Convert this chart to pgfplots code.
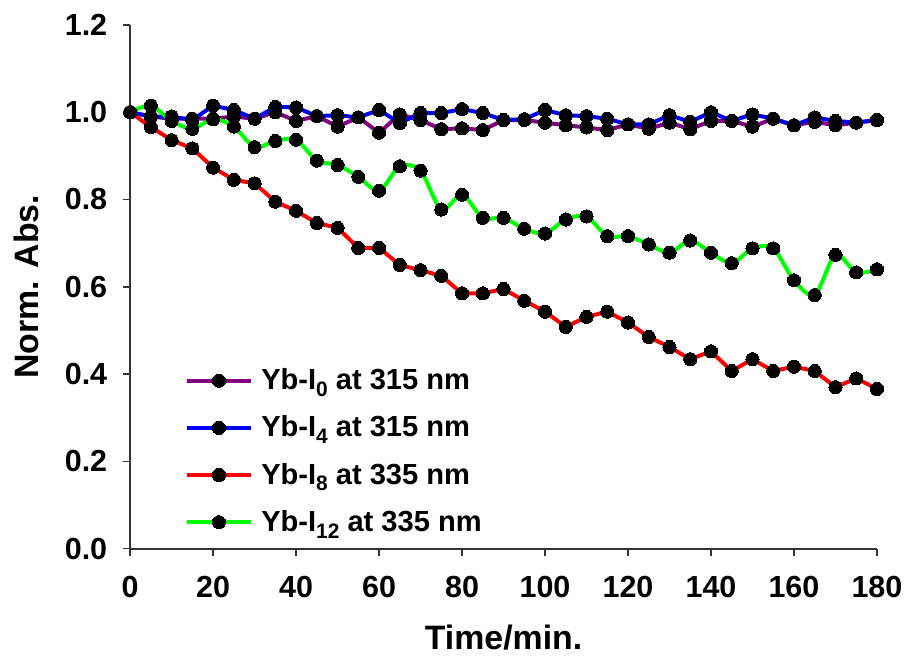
\documentclass[border=0pt]{standalone}
\usepackage{pgfplots}
\pgfplotsset{compat=1.18}
\usepackage{pgfplotstable}
\usepackage{fontspec}
\setmainfont{Liberation Sans}
\definecolor{cPurple}{HTML}{800080}
\definecolor{cBlue}{HTML}{0000FF}
\definecolor{cRed}{HTML}{FF0000}
\definecolor{cGreen}{HTML}{00FF00}
\newcommand\sub[1]{\raisebox{-0.45ex}{\fontsize{10.5}{12}\selectfont #1}}

\pgfplotstableread{
t p b r g
0 1.000 1.000 1.000 1.000
5 0.990 0.990 0.966 1.015
10 0.985 0.990 0.936 0.980
15 0.985 0.982 0.917 0.962
20 0.985 1.015 0.873 0.984
25 0.990 1.005 0.845 0.967
30 0.985 0.985 0.837 0.920
35 1.000 1.012 0.795 0.934
40 0.980 1.011 0.774 0.937
45 0.991 0.991 0.746 0.889
50 0.967 0.993 0.735 0.879
55 0.988 0.988 0.689 0.852
60 0.953 1.005 0.689 0.820
65 0.995 0.975 0.650 0.876
70 0.982 0.998 0.638 0.866
75 0.961 0.998 0.625 0.777
80 0.963 1.007 0.585 0.811
85 0.959 0.998 0.585 0.758
90 0.982 0.982 0.595 0.758
95 0.982 0.984 0.568 0.733
100 0.976 1.005 0.543 0.722
105 0.970 0.993 0.508 0.754
110 0.965 0.991 0.531 0.761
115 0.959 0.985 0.543 0.716
120 0.972 0.972 0.518 0.716
125 0.962 0.972 0.485 0.697
130 0.976 0.993 0.462 0.678
135 0.961 0.978 0.434 0.706
140 0.980 1.000 0.452 0.678
145 0.980 0.980 0.407 0.654
150 0.967 0.995 0.434 0.688
155 0.985 0.985 0.407 0.688
160 0.970 0.970 0.417 0.615
165 0.978 0.988 0.407 0.581
170 0.970 0.980 0.370 0.673
175 0.976 0.976 0.390 0.633
180 0.982 0.982 0.366 0.640
}\datatable

\begin{document}
\begin{tikzpicture}
\begin{axis}[
  name=ax,
  scale only axis,
  width=375pt, height=263pt,
  xmin=0, xmax=180, ymin=0, ymax=1.2,
  xtick={0,20,...,180},
  ytick={0,0.2,...,1.2},
  axis lines=left,
  axis line style={-, line width=1pt, black!80},
  tick style={line width=0.8pt, black!80},
  tick align=outside,
  major tick length=3.5pt,
  /pgf/number format/assume math mode=true,
  ticklabel style={font=\bfseries\fontsize{15.3}{17}\selectfont},
  yticklabel style={xshift=-4.5pt, /pgf/number format/.cd, fixed, fixed zerofill, precision=1},
  xticklabel style={yshift=-7pt},
  xlabel={Time/min.},
  ylabel={Norm. Abs.},
  label style={font=\bfseries\fontsize{17}{19}\selectfont},
  xlabel style={at={(axis description cs:0.5,-0.17)}, anchor=center},
  ylabel style={at={(axis description cs:-0.139,0.5)}, anchor=center},
  every axis plot/.append style={line width=2pt, mark=*, mark size=3.3pt,
     mark options={fill=black, draw=black, line width=0pt}},
  legend cell align=left,
  legend style={draw=none, fill=none, inner sep=0pt,
     at={(axis description cs:0.0724,0.352)}, anchor=north west,
     font=\bfseries\fontsize{14.6}{17}\selectfont, row sep=7.6pt,
     nodes={inner xsep=4pt}},
  legend image code/.code={
     \draw[mark repeat=2, mark phase=2] plot coordinates {(0pt,0pt) (16.25pt,0pt) (32.5pt,0pt)};},
]
\addplot[cPurple] table[x=t, y=p] {\datatable};
\addlegendentry{Yb-I\sub{0} at 315 nm}
\addplot[cBlue] table[x=t, y=b] {\datatable};
\addlegendentry{Yb-I\sub{4} at 315 nm}
\addplot[cRed] table[x=t, y=r] {\datatable};
\addlegendentry{Yb-I\sub{8} at 335 nm}
\addplot[cGreen, smooth] table[x=t, y=g] {\datatable};
\addlegendentry{Yb-I\sub{12} at 335 nm}
\end{axis}
\path ([xshift=-65.35pt, yshift=-56pt]ax.south west) rectangle ([xshift=14pt, yshift=12.5pt]ax.north east);
\end{tikzpicture}
\end{document}
